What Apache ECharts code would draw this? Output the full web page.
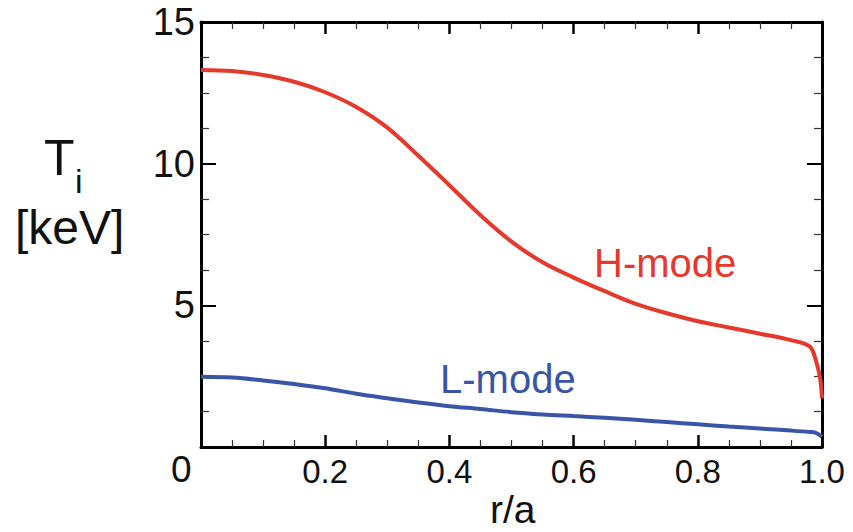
<!DOCTYPE html>
<html>
<head>
<meta charset="utf-8">
<title>Ti profiles</title>
<script src="https://cdn.jsdelivr.net/npm/echarts@6/dist/echarts.min.js"></script>
<style>
  html, body { margin: 0; padding: 0; background: #fff; }
  #chart { width: 853px; height: 532px; }
</style>
</head>
<body>
<div id="chart"></div>
<script>
// r/a positions and ion temperature (keV)
var rH = [0, 0.05, 0.10, 0.15, 0.20, 0.25, 0.30, 0.35, 0.40, 0.45, 0.50, 0.55, 0.60, 0.65, 0.70, 0.75, 0.80, 0.85, 0.90, 0.95, 0.98, 0.99, 0.997, 1.0];
var tiH = [13.31, 13.27, 13.13, 12.89, 12.52, 12.0, 11.27, 10.28, 9.24, 8.18, 7.25, 6.52, 5.98, 5.50, 5.05, 4.72, 4.44, 4.22, 4.00, 3.77, 3.55, 3.07, 2.42, 1.72];

var rL = [0, 0.05, 0.10, 0.15, 0.20, 0.25, 0.30, 0.35, 0.40, 0.45, 0.50, 0.55, 0.60, 0.65, 0.70, 0.75, 0.80, 0.85, 0.90, 0.95, 0.98, 0.99, 1.0];
var tiL = [2.48, 2.45, 2.35, 2.22, 2.07, 1.88, 1.72, 1.57, 1.44, 1.34, 1.23, 1.15, 1.09, 1.03, 0.96, 0.88, 0.80, 0.72, 0.65, 0.58, 0.53, 0.50, 0.37];

var xTicks = { min: 0, max: 1, step: 0.2 };
var yTicks = { min: 0, max: 15, step: 5 };

var RED = '#e5392b', BLUE = '#3a55a7';
var FONT = '"Liberation Sans", Arial, Helvetica, sans-serif';

function pairs(xs, ys) {
  return xs.map(function (x, i) { return [x, ys[i]]; });
}

// one axis builder for all four frame sides
function xAxis(pos, labels) {
  return {
    type: 'value', position: pos, min: xTicks.min, max: xTicks.max, interval: xTicks.step,
    axisLine: { show: true, onZero: false, lineStyle: { color: '#000', width: 3 } },
    axisTick: { show: true, inside: true, length: 12, lineStyle: { color: '#000', width: 2.5 } },
    minorTick: { show: true, splitNumber: 4, length: 7, lineStyle: { color: '#333', width: 1.2 } },
    splitLine: { show: false },
    axisLabel: {
      show: labels, margin: 8, fontSize: 33, color: '#111', fontFamily: FONT,
      formatter: function (v) { return v === 0 ? '' : v.toFixed(1); }
    }
  };
}
function yAxis(pos, labels) {
  return {
    type: 'value', position: pos, min: yTicks.min, max: yTicks.max, interval: yTicks.step,
    axisLine: { show: true, onZero: false, lineStyle: { color: '#000', width: 3 } },
    axisTick: { show: true, inside: true, length: 15, lineStyle: { color: '#000', width: 2 } },
    minorTick: { show: true, splitNumber: 4, length: 8, lineStyle: { color: '#333', width: 1.2 } },
    splitLine: { show: false },
    axisLabel: {
      show: labels, margin: 6, fontSize: 38, color: '#111', fontFamily: FONT,
      formatter: function (v) { return v === 0 ? '' : String(v); }
    }
  };
}

var chart = echarts.init(document.getElementById('chart'), null, { renderer: 'svg' });

chart.setOption({
  animation: false,
  backgroundColor: '#fff',
  grid: { left: 201, right: 31, top: 22, bottom: 85 },
  xAxis: [xAxis('bottom', true), xAxis('top', false)],
  yAxis: [yAxis('left', true), yAxis('right', false)],
  series: [
    {
      name: 'H-mode', type: 'line', xAxisIndex: 0, yAxisIndex: 0,
      data: pairs(rH, tiH), showSymbol: false, smooth: 0.35,
      lineStyle: { color: RED, width: 4 }
    },
    {
      name: 'L-mode', type: 'line', xAxisIndex: 0, yAxisIndex: 0,
      data: pairs(rL, tiL), showSymbol: false, smooth: 0.35,
      lineStyle: { color: BLUE, width: 4 }
    }
  ],
  graphic: [
    { type: 'text', left: 594, top: 243, style: { text: 'H-mode', fill: RED, font: '40px ' + FONT } },
    { type: 'text', left: 440, top: 359, style: { text: 'L-mode', fill: BLUE, font: '40px ' + FONT } },
    { type: 'text', left: 44, top: 133, style: { text: 'T', fill: '#111', font: '50px ' + FONT } },
    { type: 'text', left: 75, top: 164, style: { text: 'i', fill: '#111', font: '34px ' + FONT, lineHeight: 29 } },
    { type: 'text', left: 15, top: 203, style: { text: '[keV]', fill: '#111', font: '48px ' + FONT, lineHeight: 44 } },
    { type: 'text', left: 490, top: 490, style: { text: 'r/a', fill: '#111', font: '39px ' + FONT, lineHeight: 39 } },
    { type: 'text', left: 171, top: 451, style: { text: '0', fill: '#111', font: '37px ' + FONT } }
  ]
});
</script>
</body>
</html>
